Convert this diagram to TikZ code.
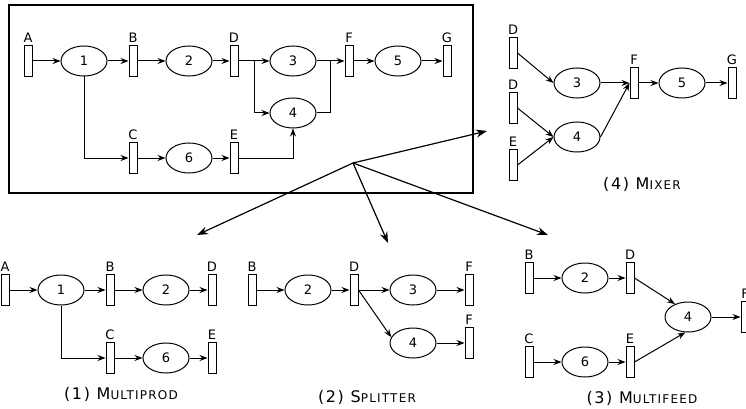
\documentclass[tikz,border=0pt]{standalone}
\usepackage{fontspec}
\setmainfont{DejaVu Sans}
\newfontfamily\capfont[LetterSpace=10]{DejaVu Sans}
\usetikzlibrary{shapes.geometric,arrows.meta,calc}

% captions: large initial capital followed by smaller capitals
\newcommand\captiontxt[2]{{\capfont\fontsize{16}{18}\selectfont #1{\fontsize{12}{14}\selectfont #2}}}

\tikzset{
  place/.style={draw, rectangle, minimum width=8pt, minimum height=31pt,
                inner sep=0pt, line width=1pt},
  proc/.style={draw, ellipse, minimum width=46pt, minimum height=30pt,
               inner sep=0pt, line width=1pt,
               font=\fontsize{13}{15}\selectfont},
  lbl/.style={font=\fontsize{13}{15}\selectfont, inner sep=2.5pt},
  captxt/.style={inner sep=0pt},
  arr/.style={-{Stealth[length=8pt,width=6pt]}, line width=1pt},
  bigarr/.style={-{Stealth[length=11pt,width=8pt]}, line width=1.2pt},
}

\begin{document}
\begin{tikzpicture}[x=1pt,y=-1pt]
\clip (0,0) rectangle (746,409);
\fill[white] (0,0) rectangle (746,409);

% ---------- full network ----------
\draw[line width=1.2pt] (9,5) rectangle (473,193);
\node[place, label={[lbl]above:A}] (tA) at (28,61) {};
\node[proc] (e1) at (84,61) {1};
\node[place, label={[lbl]above:B}] (tB) at (133,61) {};
\node[proc] (e2) at (189,61) {2};
\node[place, label={[lbl]above:D}] (tD) at (234,61) {};
\node[proc] (e3) at (293,61) {3};
\node[place, label={[lbl]above:F}] (tF) at (349,61) {};
\node[proc] (e5) at (398,61) {5};
\node[place, label={[lbl]above:G}] (tG) at (447,61) {};
\node[proc] (e4) at (293,113) {4};
\node[place, label={[lbl]above:C}] (tC) at (133,158) {};
\node[proc] (e6) at (189,158) {6};
\node[place, label={[lbl]above:E}] (tE) at (234,158) {};

\coordinate (jD) at ($(tD.east)!0.5!(e3.west)$);
\coordinate (jF) at ($(e3.east)!0.5!(tF.west)$);

\draw[arr] (tA) -- (e1);
\draw[arr] (e1) -- (tB);
\draw[arr] (tB) -- (e2);
\draw[arr] (e2) -- (tD);
\draw[arr] (tD) -- (e3);
\draw[arr] (e3) -- (tF);
\draw[arr] (tF) -- (e5);
\draw[arr] (e5) -- (tG);
\draw[arr] (jD) |- (e4.west);
\draw[line width=1pt] (e4.east) -| (jF);
\draw[arr] (e1.south) |- (tC.west);
\draw[arr] (tC) -- (e6);
\draw[arr] (e6) -- (tE);
\draw[arr] (tE.east) -| (e4.south);

% ---------- arrows to the four patterns ----------
\coordinate (hub) at (353,163);
\coordinate (toMixer) at (487,131);
\coordinate (toMulti) at (197,235);
\coordinate (toSplit) at (388,243);
\coordinate (toFeed) at (548,235);
\draw[bigarr] (hub) -- (toMixer);
\draw[bigarr] (hub) -- (toMulti);
\draw[bigarr] (hub) -- (toSplit);
\draw[bigarr] (hub) -- (toFeed);

% ---------- (4) mixer ----------
\node[place, label={[lbl]above:D}] (mD1) at (513,53) {};
\node[place, label={[lbl]above:D}] (mD2) at (513,108) {};
\node[place, label={[lbl]above:E}] (mE) at (513,165) {};
\node[proc] (m3) at (577,83) {3};
\node[proc] (m4) at (577,137) {4};
\node[place, label={[lbl]above:F}] (mF) at (634,83) {};
\node[proc] (m5) at (682,83) {5};
\node[place, label={[lbl]above:G}] (mG) at (732,83) {};
\draw[arr] (mD1.east) -- (m3.west);
\draw[arr] (mD2.east) -- (m4.west);
\draw[arr] (mE.east) -- (m4.west);
\draw[arr] (m3.east) -- (mF.west);
\draw[arr] (m4.east) -- (mF.west);
\draw[arr] (mF) -- (m5);
\draw[arr] (m5) -- (mG);
\node[captxt] (capMixer) at (642,184) {\captiontxt{(4) M}{IXER}};

% ---------- (1) multiprod ----------
\node[place, label={[lbl]above:A}] (pA) at (5,290) {};
\node[proc] (p1) at (61,290) {1};
\node[place, label={[lbl]above:B}] (pB) at (110,290) {};
\node[proc] (p2) at (166,290) {2};
\node[place, label={[lbl]above:D}] (pD) at (212,290) {};
\node[place, label={[lbl]above:C}] (pC) at (110,358) {};
\node[proc] (p6) at (166,358) {6};
\node[place, label={[lbl]above:E}] (pE) at (212,358) {};
\draw[arr] (pA) -- (p1);
\draw[arr] (p1) -- (pB);
\draw[arr] (pB) -- (p2);
\draw[arr] (p2) -- (pD);
\draw[arr] (p1.south) |- (pC.west);
\draw[arr] (pC) -- (p6);
\draw[arr] (p6) -- (pE);
\node[captxt] (capMulti) at (121,394) {\captiontxt{(1) M}{ULTIPROD}};

% ---------- (2) splitter ----------
\node[place, label={[lbl]above:B}] (sB) at (252,290) {};
\node[proc] (s2) at (308,290) {2};
\node[place, label={[lbl]above:D}] (sD) at (354,290) {};
\node[proc] (s3) at (413,290) {3};
\node[place, label={[lbl]above:F}] (sF) at (469,290) {};
\node[proc] (s4) at (413,343) {4};
\node[place, label={[lbl]above:F}] (sF2) at (469,343) {};
\draw[arr] (sB) -- (s2);
\draw[arr] (s2) -- (sD);
\draw[arr] (sD) -- (s3);
\draw[arr] (s3) -- (sF);
\draw[arr] (sD.east) -- (s4.165);
\draw[arr] (s4) -- (sF2);
\node[captxt] (capSplit) at (367,397) {\captiontxt{(2) S}{PLITTER}};

% ---------- (3) multifeed ----------
\node[place, label={[lbl]above:B}] (fB) at (529,278) {};
\node[proc] (f2) at (585,278) {2};
\node[place, label={[lbl]above:D}] (fD) at (630,278) {};
\node[place, label={[lbl]above:C}] (fC) at (529,362) {};
\node[proc] (f6) at (585,362) {6};
\node[place, label={[lbl]above:E}] (fE) at (630,362) {};
\node[proc] (f4) at (688,317) {4};
\node[place, label={[lbl]above:F}] (fF) at (745,317) {};
\draw[arr] (fB) -- (f2);
\draw[arr] (f2) -- (fD);
\draw[arr] (fD.east) -- (f4.135);
\draw[arr] (fC) -- (f6);
\draw[arr] (f6) -- (fE);
\draw[arr] (fE.east) -- (f4.-100);
\draw[arr] (f4) -- (fF);
\node[captxt] (capFeed) at (642,398) {\captiontxt{(3) M}{ULTIFEED}};
\end{tikzpicture}
\end{document}
